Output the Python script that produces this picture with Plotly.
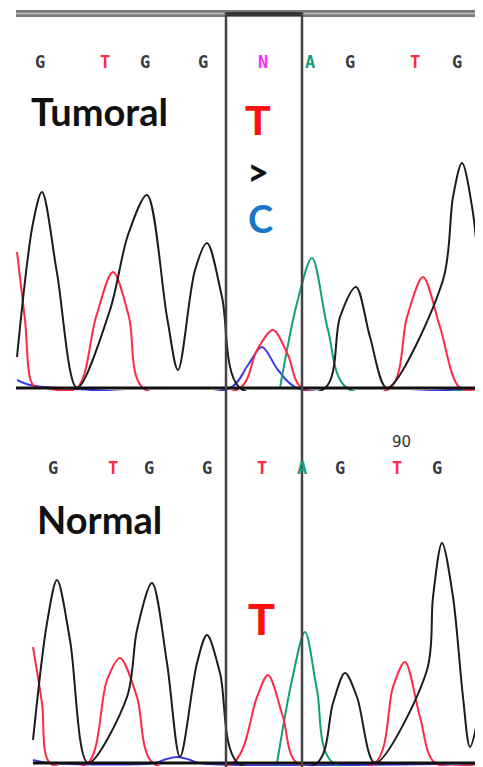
import plotly.graph_objects as go

# page is shown with an 8px body margin, so the figure is 8px smaller and all
# positions below are given in page pixels
W, H = 483, 767
OFF = 8
FW, FH = W - OFF, H - OFF

# ---------------- data (scan position, signal in RFU) ----------------
# Tumoral sample
tum_black_x = [17, 33, 42, 57, 77, 110, 128, 147, 167, 178, 195, 207, 222, 240, 325, 340, 356, 370, 387, 443, 453, 462, 473, 483, 490]
tum_black_y = [124, 660, 784, 460, 0, 312, 612, 772, 284, 72, 472, 580, 364, 0, 0, 284, 404, 204, 0, 432, 764, 900, 700, 284, 100]
tum_red_x = [17, 25, 33, 45, 77, 96, 113, 129, 143, 240, 257, 273, 288, 302, 390, 407, 423, 440, 460, 483]
tum_red_y = [544, 272, 12, 0, 0, 284, 464, 284, 0, 0, 152, 232, 132, 0, 0, 284, 444, 244, 0, 0]
tum_blue_x = [17, 30, 60, 230, 248, 262, 278, 297, 483]
tum_blue_y = [32, 12, 0, 0, 92, 164, 72, 0, 0]
tum_green_x = [280, 297, 312, 328, 347, 483]
tum_green_y = [0, 340, 520, 232, 0, 0]

# Normal sample
nor_black_x = [33, 47, 57, 70, 88, 127, 137, 152, 167, 180, 197, 207, 220, 238, 317, 333, 345, 357, 375, 427, 433, 442, 453, 463, 470, 483, 490]
nor_black_y = [92, 560, 732, 492, 0, 264, 532, 720, 400, 24, 400, 512, 360, 0, 0, 240, 360, 264, 0, 372, 664, 880, 664, 264, 64, 292, 500]
nor_red_x = [33, 42, 50, 88, 107, 120, 137, 153, 233, 257, 268, 283, 297, 375, 393, 405, 420, 435, 483]
nor_red_y = [464, 240, 0, 0, 332, 420, 264, 0, 0, 264, 352, 184, 0, 0, 304, 404, 184, 0, 0]
nor_blue_x = [33, 50, 155, 165, 177, 189, 199, 483]
nor_blue_y = [12, 0, 0, 14, 24, 14, 0, 0]
nor_green_x = [277, 292, 305, 317, 333, 483]
nor_green_y = [0, 332, 524, 292, 0, 0]

# base calls
tum_bases = ["G", "T", "G", "G", "N", "A", "G", "T", "G"]
tum_base_x = [40, 105, 145, 203, 263, 310, 350, 415, 457]
nor_bases = ["G", "T", "G", "G", "T", "A", "G", "T", "G"]
nor_base_x = [53, 113, 149, 207, 262, 302, 340, 397, 437]
nor_tick_label = "90"
nor_tick_x = 401

# variant window (scan positions)
variant_x = [226, 302]

# ---------------- styles ----------------
C_BLACK = "#1c1c1c"
C_RED = "#ff2a45"
C_GREEN = "#12a07a"
C_BLUE = "#3a3ae6"
BASE_COL = {"G": "#3a3a40", "T": "#ff2a45", "A": "#12a07a", "C": "#3a3ae6", "N": "#ff2cff"}


def py2paper(p):
    return (H - p) / FH


fig = go.Figure()


def add(xs, ys, color, yax):
    fig.add_trace(go.Scatter(x=xs, y=ys, mode="lines", yaxis=yax,
                             line=dict(color=color, width=2, shape="spline", smoothing=0.9),
                             hoverinfo="skip", showlegend=False))


add(tum_blue_x, tum_blue_y, C_BLUE, "y")
add(tum_green_x, tum_green_y, C_GREEN, "y")
add(tum_red_x, tum_red_y, C_RED, "y")
add(tum_black_x, tum_black_y, C_BLACK, "y")
add(nor_blue_x, nor_blue_y, C_BLUE, "y2")
add(nor_green_x, nor_green_y, C_GREEN, "y2")
add(nor_red_x, nor_red_y, C_RED, "y2")
add(nor_black_x, nor_black_y, C_BLACK, "y2")

shapes = []
# baselines
shapes.append(dict(type="line", xref="x", yref="y", x0=16, x1=483, y0=0, y1=0,
                   line=dict(color="#111", width=3)))
shapes.append(dict(type="line", xref="x", yref="y2", x0=33, x1=483, y0=0, y1=0,
                   line=dict(color="#111", width=3)))
# top double border
shapes.append(dict(type="rect", xref="x", yref="paper", x0=16, x1=483,
                   y0=py2paper(17), y1=py2paper(10), fillcolor="#7a7a7a", line=dict(width=0)))
shapes.append(dict(type="line", xref="x", yref="paper", x0=16, x1=483,
                   y0=py2paper(13.5), y1=py2paper(13.5), line=dict(color="#c4c4c4", width=1.5)))
shapes.append(dict(type="line", xref="x", yref="paper", x0=variant_x[0], x1=variant_x[1],
                   y0=py2paper(14), y1=py2paper(14), line=dict(color="#333", width=4)))
# variant box verticals
for vx in variant_x:
    shapes.append(dict(type="line", xref="x", yref="paper", x0=vx, x1=vx,
                       y0=0, y1=py2paper(12), line=dict(color="#444", width=2.5)))

ann = []


def text(x, y, s, family, size, color, xanchor="center"):
    ann.append(dict(x=x, y=py2paper(y), xref="x", yref="paper", text=s, showarrow=False,
                    xanchor=xanchor, yanchor="middle",
                    font=dict(family=family, size=size, color=color)))


for b, x in zip(tum_bases, tum_base_x):
    text(x, 62, "<b>" + b + "</b>", "DejaVu Sans Mono", 17, BASE_COL[b])
for b, x in zip(nor_bases, nor_base_x):
    text(x, 468, "<b>" + b + "</b>", "DejaVu Sans Mono", 17, BASE_COL[b])
text(nor_tick_x, 442, nor_tick_label, "DejaVu Sans", 15, "#333")

text(29, 111, "<b>Tumoral</b>", "Lato", 38, "#111", xanchor="left")
text(35, 519, "<b>Normal</b>", "Lato", 38, "#111", xanchor="left")
text(258, 121, "<b>T</b>", "Liberation Sans", 42, "#ff1010")
text(258, 171, "<b>&gt;</b>", "Lato", 38, "#111")
text(260, 218, "<b>C</b>", "Lato", 38, "#1a78c8")
text(261, 619, "<b>T</b>", "Liberation Sans", 44, "#ff1010")

fig.update_layout(
    width=FW, height=FH,
    margin=dict(l=0, r=0, t=0, b=0),
    paper_bgcolor="white", plot_bgcolor="white",
    xaxis=dict(range=[OFF, W], visible=False, fixedrange=True),
    yaxis=dict(domain=[py2paper(391), py2paper(13)], range=[-12, (391 - 13) * 4 - 12],
               visible=False, fixedrange=True),
    yaxis2=dict(domain=[py2paper(766), py2paper(391)], range=[-12, (766 - 391) * 4 - 12],
                visible=False, fixedrange=True),
    shapes=shapes, annotations=ann,
)

fig.write_html("out.html")
